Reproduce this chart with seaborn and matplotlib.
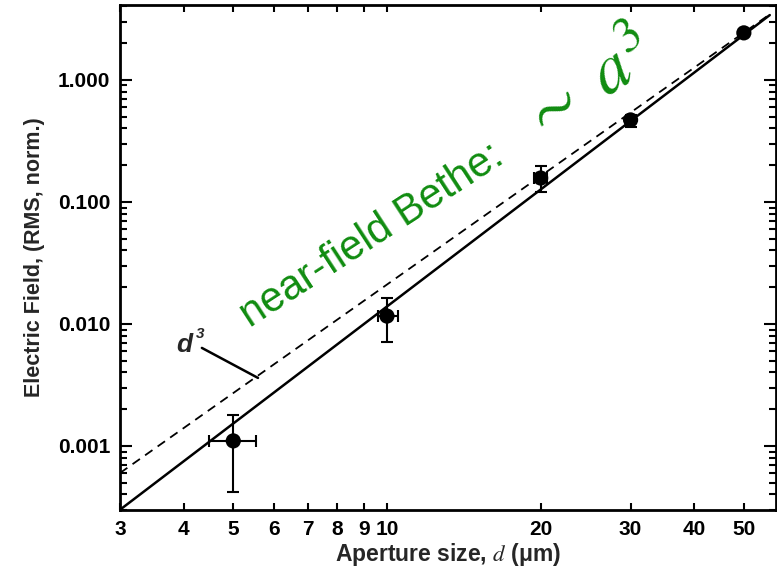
import numpy as np
import pandas as pd
import matplotlib
matplotlib.use("Agg")
import matplotlib.pyplot as plt
import seaborn as sns
from matplotlib.ticker import FixedLocator, NullLocator, LogLocator, FixedFormatter, NullFormatter

# ---- data ----
aperture = [5, 10, 20, 30, 50]
field = [0.0011, 0.0116, 0.157, 0.47, 2.43]
field_lo = [0.00042, 0.0071, 0.121, 0.41, 2.43]
field_hi = [0.0018, 0.0163, 0.197, 0.52, 2.43]
aperture_lo = [4.48, 9.6, 19.4, 29.6, 50]
aperture_hi = [5.54, 10.5, 20.6, 30.4, 50]

fit_x = [3.0, 56.2]
fit_y = [0.0003, 3.4]          # solid fitted line
d3_x = [3.0, 56.2]
d3_y = [0.0006, 3.45]          # dashed d^3 line

xtick_vals = [3, 4, 5, 6, 7, 8, 9, 10, 20, 30, 40, 50]
xtick_labels = ["3", "4", "5", "6", "7", "8", "9", "10", "20", "30", "40", "50"]
ytick_vals = [0.001, 0.01, 0.1, 1.0]
ytick_labels = ["0.001", "0.010", "0.100", "1.000"]

sns.set_style("ticks")
plt.rcParams["font.family"] = ["Liberation Sans", "DejaVu Sans"]
plt.rcParams["mathtext.fontset"] = "stix"

fig = plt.figure(figsize=(7.77, 5.78), dpi=100)
ax = fig.add_axes([120 / 777, 1 - 510 / 578, 656 / 777, 505 / 578])
ax.set_xscale("log")
ax.set_yscale("log")

fit_df = pd.DataFrame({"x": fit_x, "y": fit_y})
d3_df = pd.DataFrame({"x": d3_x, "y": d3_y})
pts = pd.DataFrame({"x": aperture, "y": field})

sns.lineplot(data=fit_df, x="x", y="y", ax=ax, color="black", lw=1.8,
             estimator=None, sort=False, zorder=3)
sns.lineplot(data=d3_df, x="x", y="y", ax=ax, color="black", lw=1.3,
             estimator=None, sort=False, zorder=3, dashes=False)
ax.lines[-1].set_dashes([5, 3.5])

y = np.array(field)
x = np.array(aperture)
ax.errorbar(x, y,
            yerr=[y - np.array(field_lo), np.array(field_hi) - y],
            xerr=[x - np.array(aperture_lo), np.array(aperture_hi) - x],
            fmt="none", ecolor="black", elinewidth=1.5, capsize=4, capthick=1.5, zorder=4)
sns.scatterplot(data=pts, x="x", y="y", ax=ax, color="black", s=120,
                edgecolor="none", zorder=5, legend=False)

ax.set_xlim(3, 57.8)
ax.set_ylim(10 ** -3.525, 10 ** 0.614)

ax.xaxis.set_major_locator(FixedLocator(xtick_vals))
ax.xaxis.set_major_formatter(FixedFormatter(xtick_labels))
ax.xaxis.set_minor_locator(NullLocator())
ax.yaxis.set_major_locator(FixedLocator(ytick_vals))
ax.yaxis.set_major_formatter(FixedFormatter(ytick_labels))
ax.yaxis.set_minor_locator(LogLocator(base=10, subs=np.arange(2, 10)))
ax.yaxis.set_minor_formatter(NullFormatter())

ax.tick_params(axis="both", which="both", direction="in", top=True, right=True,
               colors="black", width=1.5)
ax.tick_params(axis="x", which="major", length=5, pad=7, labelsize=15)
ax.tick_params(axis="y", which="major", length=8.5, pad=7, labelsize=15)
ax.tick_params(axis="y", which="minor", length=5)
for lab in ax.get_xticklabels() + ax.get_yticklabels():
    lab.set_fontweight("bold")

for sp in ax.spines.values():
    sp.set_linewidth(2.0)
    sp.set_color("black")

ax.set_xlabel("Aperture size, $d$ (\u03bcm)", fontsize=16.5, fontweight="bold", labelpad=2)
ax.set_ylabel("Electric Field, (RMS, norm.)", fontsize=15.5, fontweight="bold", labelpad=9)

# annotations
ax.text(3.86, 0.0059, "d", fontsize=19, fontweight="bold", fontstyle="italic",
        ha="left", va="baseline")
ax.text(4.22, 0.0077, "3", fontsize=11, fontweight="bold", fontstyle="italic",
        ha="left", va="baseline")
ax.plot([4.34, 5.59], [0.00636, 0.00361], color="black", lw=1.8)

green = "#108c10"
ax.text(5.39, 0.00927, "near-field Bethe:", fontsize=30, color=green, rotation=33,
        rotation_mode="anchor", ha="left", va="baseline")
ax.text(19.6, 0.30, r"$\sim\ a^3$", fontsize=50, color=green, rotation=33,
        rotation_mode="anchor", ha="left", va="baseline")

fig.savefig("out.png", dpi=100)
